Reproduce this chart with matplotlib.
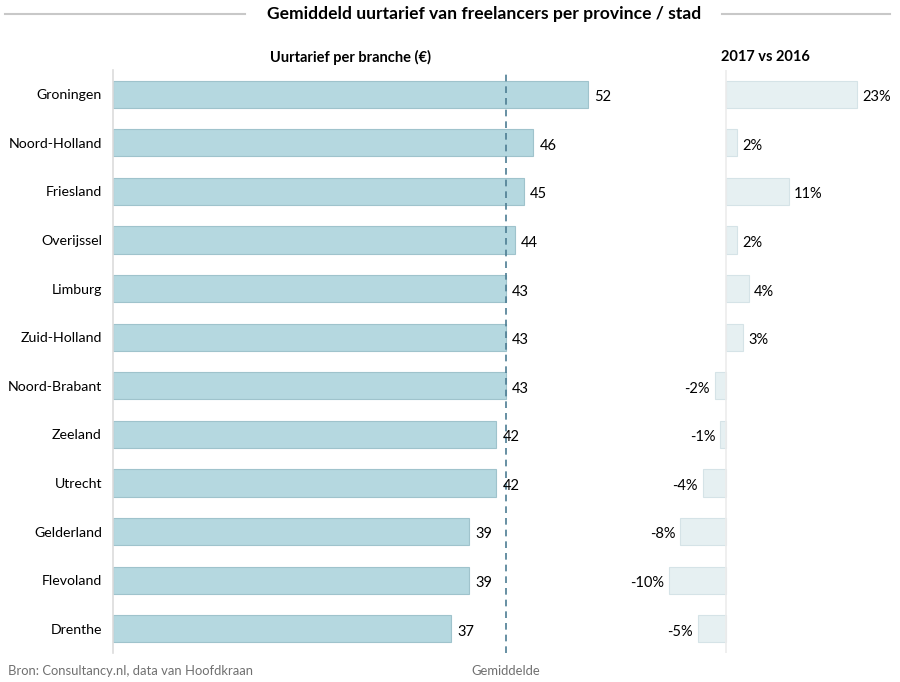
import numpy as np
import matplotlib
matplotlib.use("Agg")
import matplotlib.pyplot as plt

provinces = ["Groningen", "Noord-Holland", "Friesland", "Overijssel", "Limburg",
             "Zuid-Holland", "Noord-Brabant", "Zeeland", "Utrecht", "Gelderland",
             "Flevoland", "Drenthe"]
rates = [52, 46, 45, 44, 43, 43, 43, 42, 42, 39, 39, 37]
change_pct = [23, 2, 11, 2, 4, 3, -2, -1, -4, -8, -10, -5]
average_rate = 43.0

plt.rcParams['font.family'] = ['Lato', 'DejaVu Sans']

W, H = 900, 682
fig = plt.figure(figsize=(W / 100, H / 100), dpi=100)

def px_axes(x0, x1, y0, y1):
    return fig.add_axes([x0 / W, 1 - y1 / H, (x1 - x0) / W, (y1 - y0) / H])

left_xmax = 55
ax1 = px_axes(113, 113 + left_xmax * 9.13, 70, 653)
ax2 = px_axes(726 - 12 * 5.7, 726 + 27 * 5.7, 70, 653)

y = np.arange(len(provinces))
bar_h = 0.56

ax1.barh(y, rates, height=bar_h, color="#b5d8e0", edgecolor="#9fc3cc", linewidth=0.8)
ax1.axvline(average_rate, color="#4d7d93", linestyle=(0, (4, 3)), linewidth=1.2)
for yi, v in zip(y, rates):
    ax1.text(v + 0.7, yi + 0.06, str(v), va="center", ha="left", fontsize=10.5, color="black")
ax1.set_xlim(0, left_xmax)
ax1.set_ylim(11.5, -0.5)
ax1.set_yticks(y)
ax1.set_yticklabels(provinces, fontsize=10.2)
ax1.tick_params(axis="y", length=0, pad=8)
ax1.set_xticks([])
for s in ["top", "right", "bottom"]:
    ax1.spines[s].set_visible(False)
ax1.spines["left"].set_color("#dcdcdc")
ax1.spines["left"].set_linewidth(1.2)
ax1.patch.set_alpha(0)

ax2.barh(y, change_pct, height=bar_h, color="#e6f0f2", edgecolor="#d5e3e7", linewidth=0.8)
for yi, v in zip(y, change_pct):
    if v >= 0:
        ax2.text(v + 0.9, yi + 0.06, f"{v}%", va="center", ha="left", fontsize=10.5)
    else:
        ax2.text(v - 0.9, yi + 0.06, f"{v}%", va="center", ha="right", fontsize=10.5)
ax2.set_xlim(-12, 27)
ax2.set_ylim(11.5, -0.5)
ax2.set_xticks([])
ax2.set_yticks([])
for s in ["top", "right", "bottom", "left"]:
    ax2.spines[s].set_visible(False)
ax2.axvline(0, color="#ececec", linewidth=1.2)
ax2.patch.set_alpha(0)

# titles
fig.text(484 / W, 1 - 14 / H, "Gemiddeld uurtarief van freelancers per province / stad",
         ha="center", va="center", fontsize=12.6, fontweight="bold")
fig.add_artist(plt.Line2D([5 / W, 245 / W], [1 - 14 / H] * 2, color="#c8c8c8", linewidth=1.5))
fig.add_artist(plt.Line2D([722 / W, 890 / W], [1 - 14 / H] * 2, color="#c8c8c8", linewidth=1.5))
fig.text(350 / W, 1 - 57 / H, "Uurtarief per branche (€)", ha="center", va="center",
         fontsize=10.5, fontweight="bold")
fig.text(765 / W, 1 - 57 / H, "2017 vs 2016", ha="center", va="center",
         fontsize=10.5, fontweight="bold")

fig.text(8 / W, 1 - 671 / H, "Bron: Consultancy.nl, data van Hoofdkraan", ha="left",
         va="center", fontsize=9.4, color="#707070")
fig.text(506 / W, 1 - 671 / H, "Gemiddelde", ha="center", va="center",
         fontsize=9.4, color="#707070")

fig.savefig("out.png", dpi=100)
